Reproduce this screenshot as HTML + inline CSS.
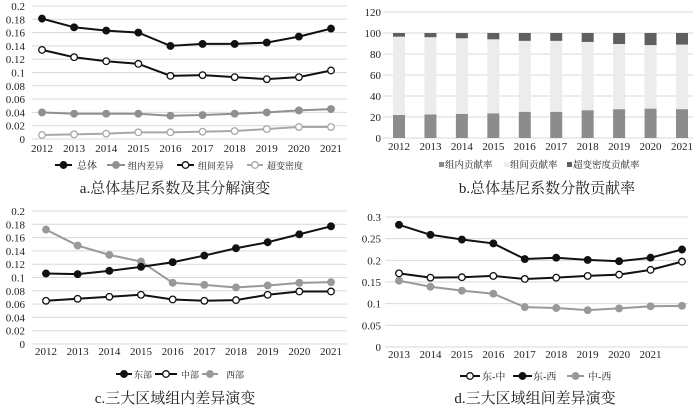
<!DOCTYPE html>
<html><head><meta charset="utf-8"><style>
html,body{margin:0;padding:0;background:#fff;}
svg{display:block;font-family:"Liberation Serif","Noto Serif CJK SC",serif;}
</style></head><body>
<svg id="s" width="700" height="408" viewBox="0 0 700 408" xmlns="http://www.w3.org/2000/svg"></svg>
<script>
const yearsA = [2012,2013,2014,2015,2016,2017,2018,2019,2020,2021];
const totalA = [.181,.168,.163,.160,.140,.143,.143,.145,.154,.166];
const withinA = [.040,.038,.038,.038,.035,.036,.038,.040,.043,.045];
const betweenA = [.134,.123,.117,.113,.095,.096,.093,.090,.093,.103];
const transA = [.006,.007,.008,.010,.010,.011,.012,.015,.018,.018];
const ticksA = [0,.02,.04,.06,.08,.1,.12,.14,.16,.18,.2];
const tickLabelsA = ["0","0.02","0.04","0.06","0.08","0.1","0.12","0.14","0.16","0.18","0.2"];

const withinB = [22,22.5,23,23.5,25,25,26.5,27.5,28,27.5];
const betweenB = [74.5,73.5,72,70.5,67.5,67.5,65,62,60.5,61.5];
const transB = [3.5,4,5,6,7.5,7.5,8.5,10.5,11.5,11];
const ticksB = [0,20,40,60,80,100,120];

const eastC = [.106,.105,.110,.116,.123,.133,.144,.153,.165,.177];
const midC = [.065,.068,.071,.074,.067,.065,.066,.074,.079,.079];
const westC = [.172,.148,.134,.124,.092,.089,.085,.088,.092,.093];

const labelsD = ["2013","2014","2015","2016","2017","2018","2019","2020","2021",""];
const emD = [.170,.160,.161,.164,.157,.160,.164,.167,.178,.197];
const ewD = [.282,.259,.248,.239,.203,.206,.201,.198,.206,.225];
const mwD = [.153,.139,.130,.123,.092,.090,.085,.089,.094,.095];
const ticksD = [0,.05,.1,.15,.2,.25,.3];
const tickLabelsD = ["0","0.05","0.1","0.15","0.2","0.25","0.3"];

const svg = document.getElementById('s');
const NS = "http://www.w3.org/2000/svg";
function mk(tag, attrs, parent){ const e=document.createElementNS(NS,tag); for(const k in attrs) e.setAttribute(k,attrs[k]); (parent||svg).appendChild(e); return e; }
function txt(x,y,s,size,anchor,parent){ const t=mk('text',{x:x,y:y,'font-size':size,'text-anchor':anchor||'middle',fill:'#222'},parent); t.textContent=s; return t; }

function axisPanel(name, x0,x1,yBase,yTop,maxV,ticks,labels,labelX){
  const g=mk('g',{});
  
  
  const ys=v=>yBase-(v/maxV)*(yBase-yTop);
  ticks.forEach((t,i)=>{
    const y=ys(t);
    mk('line',{x1:x0,x2:x1,y1:y,y2:y,stroke:'#d9d9d9','stroke-width':1},g);
    const l=txt(labelX,y+4,labels[i],11,'end',g);
    
    
  });
  return ys;
}
function xLabels(name, labels, xs, y){
  labels.forEach((s,i)=>{ const t=txt(xs(i),y,String(s),11,'middle');
    
     });
}
function series(name, vals, xs, ys, color, fill){
  const g=mk('g',{});
  
  
  mk('polyline',{points:vals.map((v,i)=>xs(i)+','+ys(v)).join(' '),fill:'none',stroke:color,'stroke-width':2},g);
  vals.forEach((v,i)=>{ const c=mk('circle',{cx:xs(i),cy:ys(v),r:3.3,fill:fill,stroke:color,'stroke-width':1.3},g);
    
     });
}
function legendLine(name,x,w,tx,y,color,fill,label,fs){
  const g=mk('g',{});
  
  
  mk('line',{x1:x,x2:x+w,y1:y,y2:y,stroke:color,'stroke-width':2},g);
  mk('circle',{cx:x+w/2,cy:y,r:3.3,fill:fill,stroke:color,'stroke-width':1.3},g);
  txt(tx,y+4,label,fs||10,'start',g);
}
function title(name,x,y,s){ const t=txt(x,y,s,15,'middle');   }

// Panel a
{
  const ys=axisPanel('panel-a',32,347,139,6,0.2,ticksA,tickLabelsA,25);
  const xs=i=>42+i*(331-42)/9;
  xLabels('panel-a',yearsA,xs,152);
  series('within-series-a',withinA,xs,ys,'#909090','#909090');
  series('trans-series-a',transA,xs,ys,'#a8a8a8','#fff');
  series('between-series-a',betweenA,xs,ys,'#111','#fff');
  series('total-series-a',totalA,xs,ys,'#111','#111');
  legendLine('legend-total',55,17,77,165,'#111','#111','总体',10);
  legendLine('legend-within',107,18,128,165,'#909090','#909090','组内差异',9);
  legendLine('legend-between',177,17,198,165,'#111','#fff','组间差异',9);
  legendLine('legend-trans',247,16,267,165,'#a8a8a8','#fff','超变密度',9);
  title('panel-a-title',175,193,'a.总体基尼系数及其分解演变');
}
// Panel b
{
  const ys=axisPanel('panel-b',383,693,138,12,120,ticksB,ticksB.map(String),381);
  const xs=i=>399+i*(682-399)/9;
  xLabels('panel-b',yearsA,xs,150);
  const bw=12;
  yearsA.forEach((y,i)=>{
    const segs=[[0,withinB[i],'#8c8c8c','bar-within'],[withinB[i],withinB[i]+betweenB[i],'#ececec','bar-between'],[withinB[i]+betweenB[i],withinB[i]+betweenB[i]+transB[i],'#5f5f5f','bar-trans']];
    segs.forEach(s=>{ const r=mk('rect',{x:xs(i)-bw/2,y:ys(s[1]),width:bw,height:ys(s[0])-ys(s[1]),fill:s[2]});
      
       });
  });
  const items=[[439,'#8c8c8c','组内贡献率','legend-within-rate'],[504,'#ececec','组间贡献率','legend-between-rate'],[567,'#5f5f5f','超变密度贡献率','legend-trans-rate']];
  items.forEach(it=>{ const g=mk('g',{});  
    mk('rect',{x:it[0],y:162,width:5,height:5,fill:it[1]},g); txt(it[0]+6,168,it[2],9.5,'start',g); });
  title('panel-b-title',547,193,'b.总体基尼系数分散贡献率');
}
// Panel c
{
  const ys=axisPanel('panel-c',32,347,344,211,0.2,ticksA,tickLabelsA,25);
  const xs=i=>46+i*(331-46)/9;
  xLabels('panel-c',yearsA,xs,355);
  series('west-series-c',westC,xs,ys,'#999','#999');
  series('mid-series-c',midC,xs,ys,'#111','#fff');
  series('east-series-c',eastC,xs,ys,'#111','#111');
  legendLine('legend-east',116,16,134,374,'#111','#111','东部',9);
  legendLine('legend-mid',155,22,181,374,'#111','#fff','中部',9);
  legendLine('legend-west',202,16,226,374,'#999','#999','西部',9);
  title('panel-c-title',175,403,'c.三大区域组内差异演变');
}
// Panel d
{
  const ys=axisPanel('panel-d',385,688,347,217,0.3,ticksD,tickLabelsD,381);
  const xs=i=>399+i*(682-399)/9;
  xLabels('panel-d',labelsD,xs,358);
  series('mid-west-series-d',mwD,xs,ys,'#999','#999');
  series('east-mid-series-d',emD,xs,ys,'#111','#fff');
  series('east-west-series-d',ewD,xs,ys,'#111','#111');
  legendLine('legend-east-mid',460,20,482,376,'#111','#fff','东-中',10);
  legendLine('legend-east-west',513,19,533,376,'#111','#111','东-西',10);
  legendLine('legend-mid-west',567,17,588,376,'#999','#999','中-西',10);
  title('panel-d-title',535,403,'d.三大区域组间差异演变');
}
</script>
</body></html>
